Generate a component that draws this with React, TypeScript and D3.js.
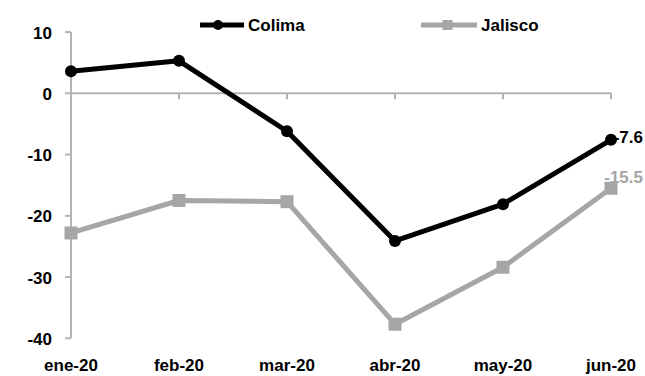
import React from "react";
import * as d3 from "d3";

const categories = ["ene-20", "feb-20", "mar-20", "abr-20", "may-20", "jun-20"];
const colima = [3.6, 5.3, -6.2, -24.1, -18.1, -7.6];
const jalisco = [-22.8, -17.5, -17.7, -37.7, -28.4, -15.5];
const yTicks = [10, 0, -10, -20, -30, -40];
const seriesNames = ["Colima", "Jalisco"];

const W = 645;
const H = 376;
const FONT = "'Liberation Sans', Arial, sans-serif";
const BLACK = "#000000";
const GRAY = "#A6A6A6";
const AXIS = "#B3B3B3";

export default function App() {
  const x = d3.scalePoint<string>().domain(categories).range([71, 611]).padding(0);
  const y = d3.scaleLinear().domain([-40, 10]).range([338.3, 32.05]);
  const line = d3
    .line<number>()
    .x((_, i) => x(categories[i]) as number)
    .y((d) => y(d));

  return (
    <svg
      width={W}
      height={H}
      style={{ position: "absolute", left: 0, top: 0, background: "#fff" }}
      fontFamily={FONT}
      fontWeight="bold"
    >
      {/* y axis */}
      <line x1={71} x2={71} y1={y(10)} y2={y(-40)} stroke={AXIS} strokeWidth={2} />
      {yTicks.map((t) => (
        <g key={t}>
          <line x1={65} x2={71} y1={y(t)} y2={y(t)} stroke={AXIS} strokeWidth={2} />
          <text x={52} y={y(t) + 6.5} textAnchor="end" fontSize={17} fill="#000">
            {t}
          </text>
        </g>
      ))}
      {/* zero axis */}
      <line x1={71} x2={611} y1={y(0)} y2={y(0)} stroke={AXIS} strokeWidth={2} />
      {categories.map((c) => (
        <line key={c} x1={x(c)} x2={x(c)} y1={y(0)} y2={y(0) + 6} stroke={AXIS} strokeWidth={2} />
      ))}
      {/* x labels */}
      {categories.map((c) => (
        <text key={c} x={x(c)} y={371} textAnchor="middle" fontSize={17} fill="#000">
          {c}
        </text>
      ))}

      {/* Jalisco */}
      <path d={line(jalisco) || ""} fill="none" stroke={GRAY} strokeWidth={5} strokeLinejoin="round" />
      {jalisco.map((v, i) => (
        <rect
          key={i}
          x={(x(categories[i]) as number) - 6.5}
          y={y(v) - 6.5}
          width={13}
          height={13}
          fill={GRAY}
        />
      ))}
      {/* Colima */}
      <path d={line(colima) || ""} fill="none" stroke={BLACK} strokeWidth={5} strokeLinejoin="round" />
      {colima.map((v, i) => (
        <circle key={i} cx={x(categories[i])} cy={y(v)} r={6} fill={BLACK} />
      ))}

      {/* data labels */}
      <text x={643} y={y(colima[5]) + 3} textAnchor="end" fontSize={17} fill={BLACK}>
        {colima[5]}
      </text>
      <text x={643} y={y(jalisco[5]) - 5} textAnchor="end" fontSize={17} fill={GRAY}>
        {jalisco[5]}
      </text>

      {/* legend */}
      <g>
        <line x1={200} x2={244} y1={25} y2={25} stroke={BLACK} strokeWidth={5} />
        <circle cx={218} cy={25} r={5} fill={BLACK} />
        <text x={248} y={31} fontSize={17} fill="#000">
          {seriesNames[0]}
        </text>
        <line x1={421} x2={477} y1={25} y2={25} stroke={GRAY} strokeWidth={5} />
        <rect x={442.5} y={20} width={10} height={10} fill={GRAY} />
        <text x={481} y={31} fontSize={17} fill="#000">
          {seriesNames[1]}
        </text>
      </g>
    </svg>
  );
}
